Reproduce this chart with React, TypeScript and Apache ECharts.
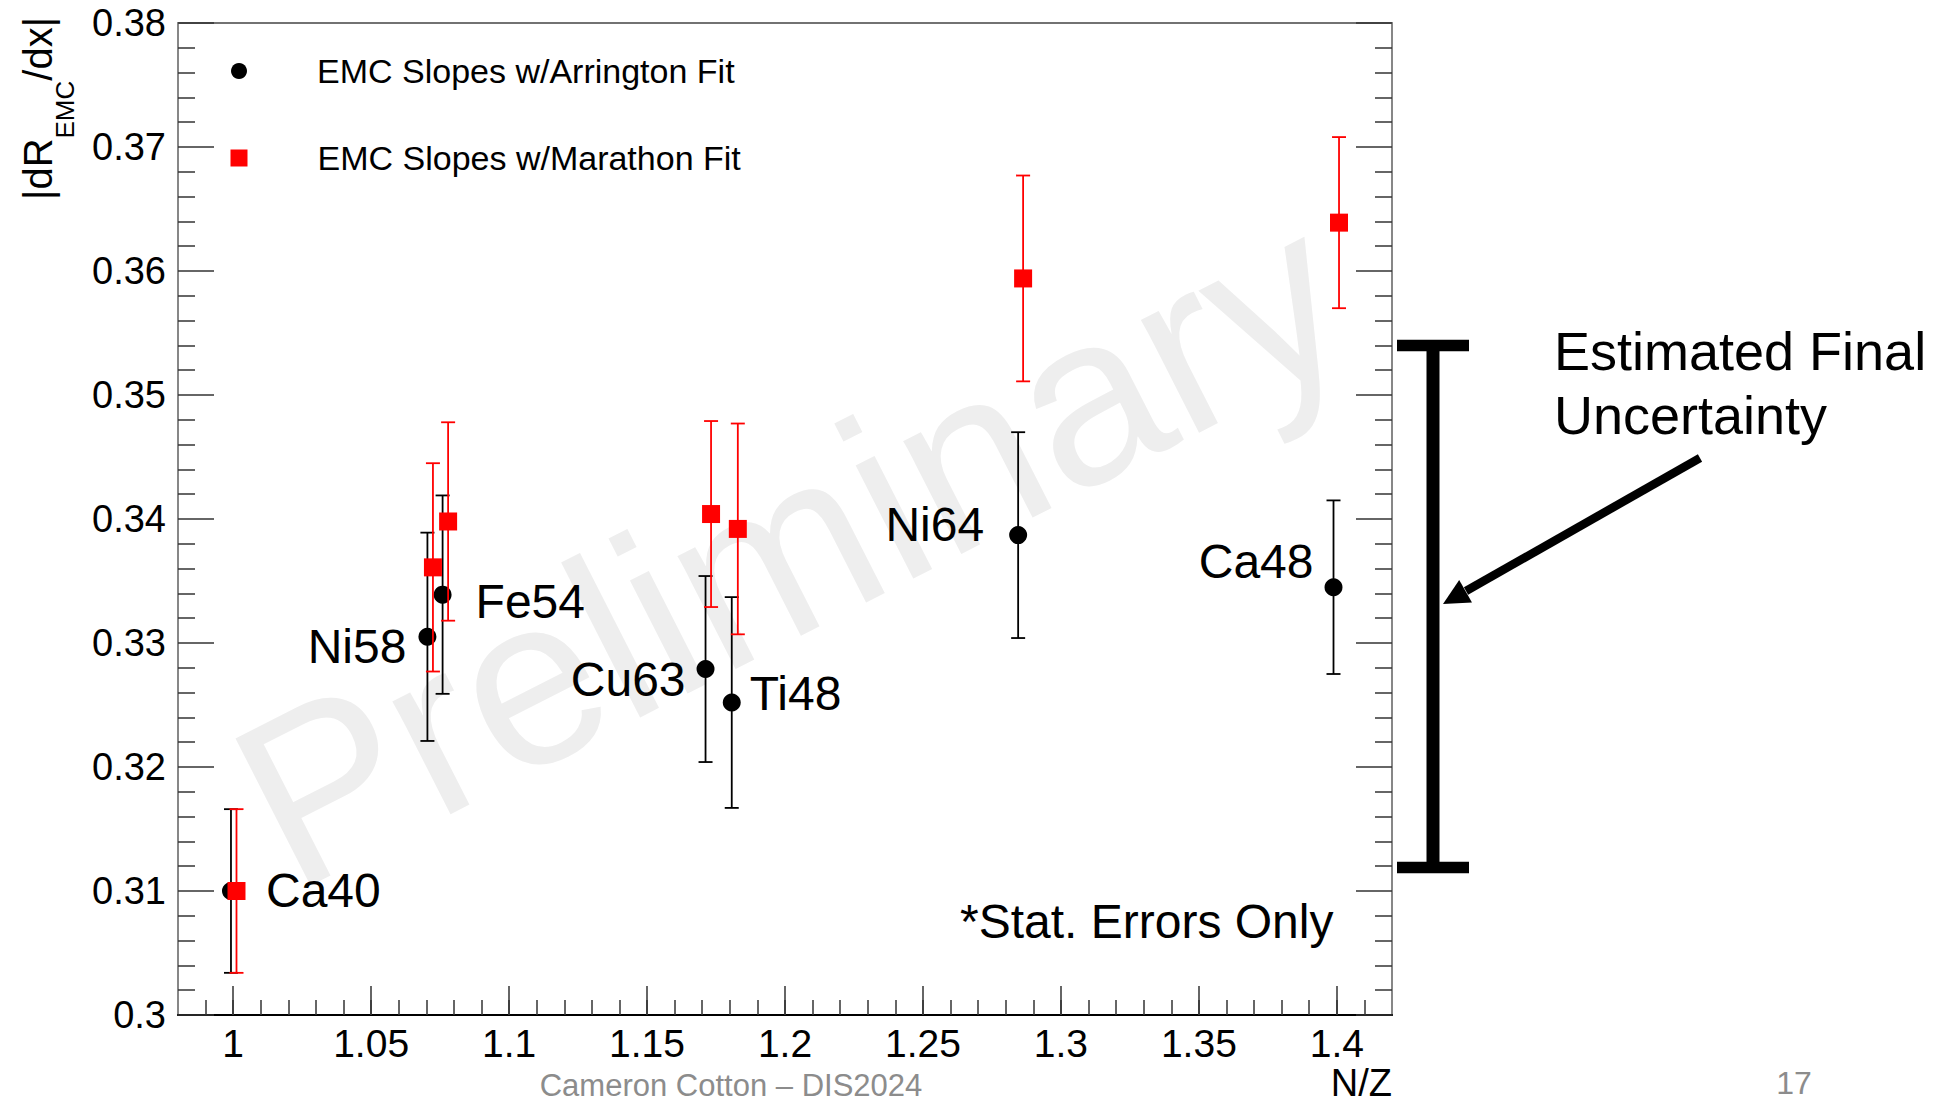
import React, { useEffect, useRef } from "react";
import * as echarts from "echarts";

const FONT = '"Liberation Sans", Arial, Helvetica, sans-serif';

// ---- data ----
const isotopes = ["Ca40", "Ni58", "Fe54", "Cu63", "Ti48", "Ni64", "Ca48"];
const arringtonX = [0.9992, 1.0704, 1.0759, 1.1712, 1.1807, 1.2845, 1.3988];
const arringtonY = [0.3100, 0.3305, 0.3339, 0.3279, 0.3252, 0.3387, 0.3345];
const arringtonErr = [0.0066, 0.0084, 0.0080, 0.0075, 0.0085, 0.0083, 0.0070];
const marathonX = [1.0012, 1.0724, 1.0779, 1.1732, 1.1829, 1.2863, 1.4008];
const marathonY = [0.3100, 0.3361, 0.3398, 0.3404, 0.3392, 0.3594, 0.3639];
const marathonErr = [0.0066, 0.0084, 0.0080, 0.0075, 0.0085, 0.0083, 0.0069];
const uncertaintyRange = [0.3119, 0.354];

const xTickLabels = [1, 1.05, 1.1, 1.15, 1.2, 1.25, 1.3, 1.35, 1.4];
const xRange = [0.98, 1.42];
const yRange = [0.3, 0.38];
const yStep = 0.01;

const seriesNames = ["EMC Slopes w/Arrington Fit", "EMC Slopes w/Marathon Fit"];

// label layout (style only): [align, dx, dy]
const labelLayout: [string, number, number][] = [
  ["left", 35, -1],
  ["right", -21, 10],
  ["left", 33, 7],
  ["right", -20, 10],
  ["left", 18, -9],
  ["right", -34, -11],
  ["right", -20, -26],
];

const xMinorTicks: number[] = [];
for (let i = 99; i <= 141; i++) xMinorTicks.push(i / 100);

function measure(text: string, size: number) {
  const c = document.createElement("canvas").getContext("2d")!;
  c.font = `${size}px ${FONT}`;
  return c.measureText(text).width;
}

function errBar(color: string) {
  return (params: any, api: any) => {
    const x = api.value(0);
    const y = api.value(1);
    const e = api.value(2);
    const top = api.coord([x, y + e]);
    const bot = api.coord([x, y - e]);
    const hw = 7;
    const style = { stroke: color, lineWidth: 1.8 };
    return {
      type: "group",
      children: [
        { type: "line", shape: { x1: top[0], y1: top[1], x2: bot[0], y2: bot[1] }, style },
        { type: "line", shape: { x1: top[0] - hw, y1: top[1], x2: top[0] + hw, y2: top[1] }, style },
        { type: "line", shape: { x1: bot[0] - hw, y1: bot[1], x2: bot[0] + hw, y2: bot[1] }, style },
      ],
    };
  };
}

export default function App() {
  const ref = useRef<HTMLDivElement>(null);
  useEffect(() => {
    const chart = echarts.init(ref.current!, null, { renderer: "svg" });

    const tickLine = { color: "#333", width: 1.5 };
    const yAxisBase = {
      type: "value",
      min: yRange[0],
      max: yRange[1],
      interval: yStep,
      splitLine: { show: false },
      axisLine: { show: true, lineStyle: { color: "#8a8a8a", width: 1.8 } },
      axisTick: { show: true, inside: true, length: 36, lineStyle: tickLine },
      minorTick: { show: true, splitNumber: 5, length: 17, lineStyle: tickLine },
    };

    const legendText = { fontSize: 34, lineHeight: 40, color: "#000", fontFamily: FONT, padding: [0, 0, 0, 65] };

    const option: any = {
      animation: false,
      backgroundColor: "#fff",
      textStyle: { fontFamily: FONT },
      grid: {
        left: 178,
        top: 23,
        right: 560,
        bottom: 89,
        show: true,
        borderColor: "#444",
        borderWidth: 1.5,
        backgroundColor: "transparent",
      },
      legend: [
        {
          data: [seriesNames[0]],
          left: 231,
          top: 51,
          padding: 0,
          itemWidth: 16,
          itemHeight: 16,
          selectedMode: false,
          textStyle: legendText,
        },
        {
          data: [seriesNames[1]],
          left: 230.5,
          top: 138,
          padding: 0,
          itemWidth: 17,
          itemHeight: 17,
          selectedMode: false,
          textStyle: legendText,
        },
      ],
      xAxis: [
        {
          type: "value",
          min: xRange[0],
          max: xRange[1],
          position: "bottom",
          splitLine: { show: false },
          axisLine: { show: true, onZero: false, lineStyle: { color: "#000", width: 2 } },
          axisTick: { show: true, inside: true, length: 29, lineStyle: tickLine, customValues: xTickLabels },
          axisLabel: {
            show: true,
            customValues: xTickLabels,
            formatter: (v: number) => String(+Number(v).toFixed(2)),
            fontSize: 39,
            lineHeight: 40,
            color: "#000",
            fontFamily: FONT,
            margin: 8,
          },
        },
        {
          type: "value",
          min: xRange[0],
          max: xRange[1],
          position: "bottom",
          splitLine: { show: false },
          axisLine: { show: false },
          axisTick: { show: true, inside: true, length: 15, lineStyle: tickLine, customValues: xMinorTicks },
          axisLabel: { show: false },
        },
      ],
      yAxis: [
        {
          ...yAxisBase,
          position: "left",
          axisLabel: { show: true, fontSize: 38, color: "#000", fontFamily: FONT, margin: 12 },
        },
        {
          ...yAxisBase,
          position: "right",
          axisLabel: { show: false },
        },
      ],
      series: [
        {
          name: "Arrington errors",
          type: "custom",
          renderItem: errBar("#000"),
          data: arringtonX.map((x, i) => [x, arringtonY[i], arringtonErr[i]]),
          encode: { x: 0, y: 1 },
          z: 2,
        },
        {
          name: seriesNames[0],
          type: "scatter",
          symbol: "circle",
          symbolSize: 18,
          itemStyle: { color: "#000", opacity: 1 },
          z: 3,
          data: arringtonX.map((x, i) => ({
            name: isotopes[i],
            value: [x, arringtonY[i]],
            label: {
              show: true,
              formatter: "{b}",
              position: "inside",
              align: labelLayout[i][0],
              verticalAlign: "middle",
              offset: [labelLayout[i][1], labelLayout[i][2]],
              fontSize: 48,
              color: "#000",
              fontFamily: FONT,
            },
          })),
        },
        {
          name: "Marathon errors",
          type: "custom",
          renderItem: errBar("#ff0000"),
          data: marathonX.map((x, i) => [x, marathonY[i], marathonErr[i]]),
          encode: { x: 0, y: 1 },
          z: 4,
        },
        {
          name: seriesNames[1],
          type: "scatter",
          symbol: "rect",
          symbolSize: 18,
          itemStyle: { color: "#ff0000", opacity: 1 },
          z: 5,
          data: marathonX.map((x, i) => [x, marathonY[i]]),
        },
      ],
    };

    chart.setOption(option);

    const yTop = chart.convertToPixel({ yAxisIndex: 0 }, uncertaintyRange[1]) as number;
    const yBot = chart.convertToPixel({ yAxisIndex: 0 }, uncertaintyRange[0]) as number;

    const mainSize = 40;
    const subSize = 26;
    const w1 = measure("|dR", mainSize);
    const w2 = measure("EMC", subSize);

    const barX = 1433;
    const capHalf = 36;

    const graphic: any[] = [
      {
        type: "text",
        x: 790,
        y: 548,
        rotation: (27 * Math.PI) / 180,
        z: -10,
        silent: true,
        style: {
          text: "Preliminary",
          fontSize: 240,
          fontFamily: FONT,
          fill: "#eeeeee",
          align: "center",
          verticalAlign: "middle",
        },
      },
      {
        type: "group",
        x: 38,
        y: 200,
        rotation: Math.PI / 2,
        children: [
          { type: "text", x: 0, y: 0, style: { text: "|dR", fontSize: mainSize, fontFamily: FONT, fill: "#000", align: "left", verticalAlign: "middle" } },
          { type: "text", x: w1, y: 27, style: { text: "EMC", fontSize: subSize, fontFamily: FONT, fill: "#000", align: "left", verticalAlign: "middle" } },
          { type: "text", x: w1 + w2, y: 0, style: { text: "/dx|", fontSize: mainSize, fontFamily: FONT, fill: "#000", align: "left", verticalAlign: "middle" } },
        ],
      },
      {
        type: "text",
        x: 1392,
        y: 1083,
        style: { text: "N/Z", fontSize: 38, lineHeight: 38, fontFamily: FONT, fill: "#000", align: "right", verticalAlign: "middle" },
      },
      {
        type: "text",
        x: 960,
        y: 921,
        style: { text: "*Stat. Errors Only", fontSize: 48, fontFamily: FONT, fill: "#000", align: "left", verticalAlign: "middle" },
      },
      {
        type: "text",
        x: 1554,
        y: 351,
        style: { text: "Estimated Final", fontSize: 54, fontFamily: FONT, fill: "#000", align: "left", verticalAlign: "middle" },
      },
      {
        type: "text",
        x: 1554,
        y: 415,
        style: { text: "Uncertainty", fontSize: 54, fontFamily: FONT, fill: "#000", align: "left", verticalAlign: "middle" },
      },
      {
        type: "rect",
        shape: { x: barX - 6.5, y: yTop, width: 13, height: yBot - yTop },
        style: { fill: "#000" },
      },
      {
        type: "rect",
        shape: { x: barX - capHalf, y: yTop - 5.75, width: capHalf * 2, height: 11.5 },
        style: { fill: "#000" },
      },
      {
        type: "rect",
        shape: { x: barX - capHalf, y: yBot - 5.75, width: capHalf * 2, height: 11.5 },
        style: { fill: "#000" },
      },
      {
        type: "line",
        shape: { x1: 1700, y1: 458, x2: 1466, y2: 591 },
        style: { stroke: "#000", lineWidth: 8.5 },
      },
      {
        type: "polygon",
        shape: { points: [[1443, 604], [1472, 602.5], [1459.2, 579.9]] },
        style: { fill: "#000" },
      },
      {
        type: "text",
        x: 731,
        y: 1085,
        style: { text: "Cameron Cotton – DIS2024", fontSize: 31, fontFamily: FONT, fill: "#8c8c8c", align: "center", verticalAlign: "middle" },
      },
      {
        type: "text",
        x: 1794,
        y: 1083,
        style: { text: "17", fontSize: 32, fontFamily: FONT, fill: "#8c8c8c", align: "center", verticalAlign: "middle" },
      },
    ];

    chart.setOption({ graphic });

    return () => chart.dispose();
  }, []);

  return (
    <div
      ref={ref}
      style={{ position: "fixed", left: 0, top: 0, width: 1952, height: 1104, background: "#fff" }}
    />
  );
}
